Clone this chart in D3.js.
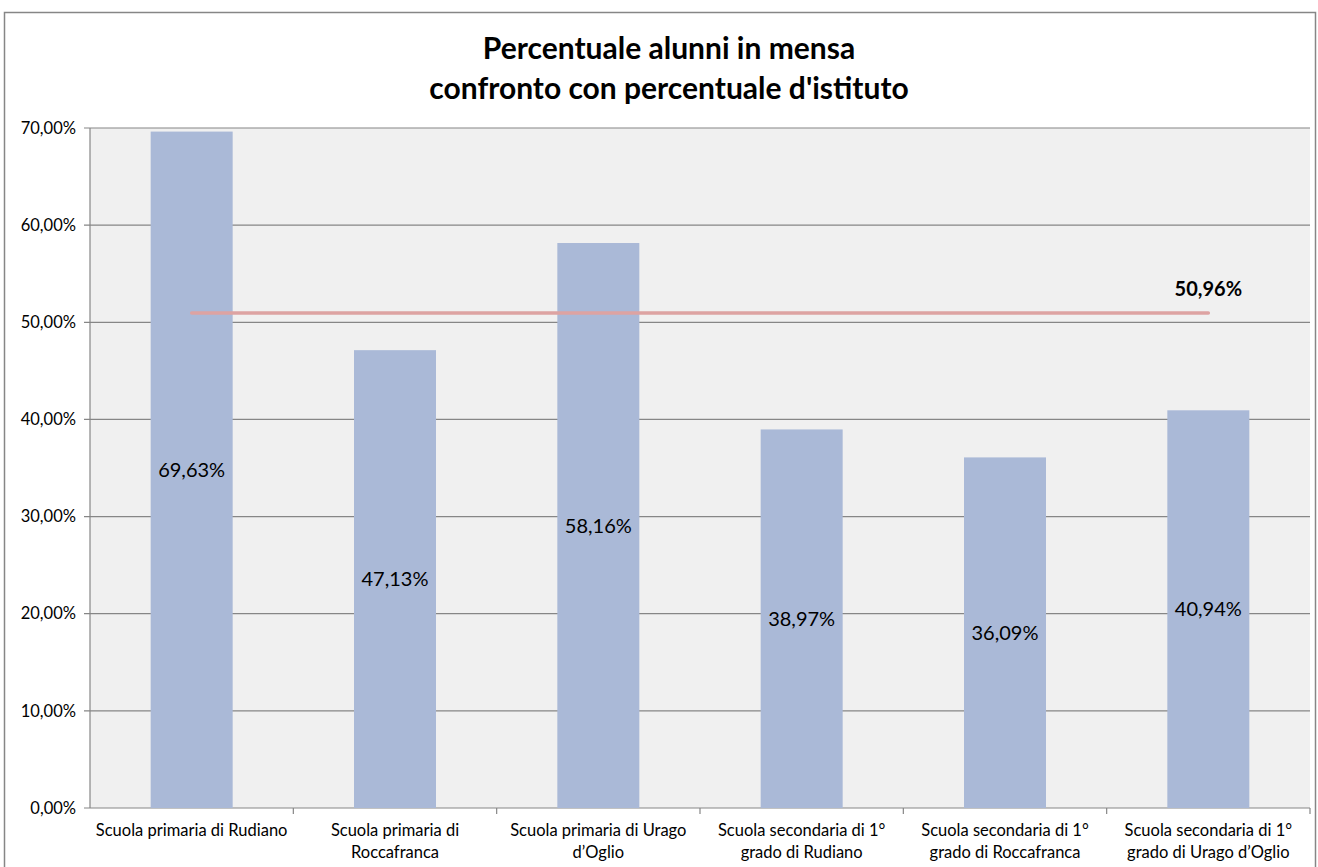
<!DOCTYPE html>
<html>
<head>
<meta charset="utf-8">
<script src="https://cdn.jsdelivr.net/npm/d3@7"></script>
<style>
  body { margin: 0; background: #fff; }
  text { font-family: Lato, "Open Sans", sans-serif; }
</style>
</head>
<body>
<div id="chart"></div>
<script>
const categories = [
  ["Scuola primaria di Rudiano"],
  ["Scuola primaria di", "Roccafranca"],
  ["Scuola primaria di Urago", "d\u2019Oglio"],
  ["Scuola secondaria di 1\u00b0", "grado di Rudiano"],
  ["Scuola secondaria di 1\u00b0", "grado di Roccafranca"],
  ["Scuola secondaria di 1\u00b0", "grado di Urago d\u2019Oglio"]
];
const values = [69.63, 47.13, 58.16, 38.97, 36.09, 40.94];
const average = 50.96;
const yTicks = [0, 10, 20, 30, 40, 50, 60, 70];
const titleLines = ["Percentuale alunni in mensa", "confronto con percentuale d'istituto"];

const width = 1318, height = 867;
const margin = { top: 128, right: 8, bottom: 59, left: 90 };
const fmt = v => d3.format(".2f")(v).replace(".", ",") + "%";

const svg = d3.select("#chart").append("svg").attr("width", width).attr("height", height);

// outer chart border
svg.append("rect")
  .attr("x", 4.5).attr("y", 12.5)
  .attr("width", 1311).attr("height", 870)
  .attr("fill", "#fff").attr("stroke", "#868686").attr("stroke-width", 1.5);

const band = d3.scaleBand().domain(d3.range(categories.length)).range([margin.left, width - margin.right]);
const y = d3.scaleLinear().domain([0, 70]).range([height - margin.bottom, margin.top]);
const cx = i => band(i) + band.bandwidth() / 2;

// plot background
svg.append("rect")
  .attr("x", margin.left).attr("y", margin.top)
  .attr("width", width - margin.left - margin.right)
  .attr("height", height - margin.top - margin.bottom)
  .attr("fill", "#F0F0F0");

// grid
svg.append("g")
  .selectAll("line")
  .data(yTicks)
  .join("line")
  .attr("x1", margin.left - 6).attr("x2", width - margin.right)
  .attr("y1", d => y(d)).attr("y2", d => y(d))
  .attr("stroke", "#868686").attr("stroke-width", 1.2);

// y axis line + labels
svg.append("line")
  .attr("x1", margin.left).attr("x2", margin.left)
  .attr("y1", margin.top).attr("y2", height - margin.bottom)
  .attr("stroke", "#868686").attr("stroke-width", 1.2);
svg.append("g")
  .selectAll("text")
  .data(yTicks)
  .join("text")
  .attr("x", margin.left - 14).attr("y", d => y(d))
  .attr("dy", "0.35em").attr("text-anchor", "end")
  .attr("font-size", 16.5).attr("fill", "#000")
  .text(d => fmt(d));

// x ticks
svg.append("g")
  .selectAll("line")
  .data(d3.range(1, categories.length + 1))
  .join("line")
  .attr("x1", d => band(d - 1) + band.bandwidth()).attr("x2", d => band(d - 1) + band.bandwidth())
  .attr("y1", y(0)).attr("y2", y(0) + 6)
  .attr("stroke", "#868686").attr("stroke-width", 1.2);

// bars
svg.append("g")
  .selectAll("rect")
  .data(values)
  .join("rect")
  .attr("x", (d, i) => cx(i) - 41)
  .attr("width", 82)
  .attr("y", d => y(d))
  .attr("height", d => y(0) - y(d))
  .attr("fill", "#AAB9D7");

// bar value labels
svg.append("g")
  .selectAll("text")
  .data(values)
  .join("text")
  .attr("x", (d, i) => cx(i))
  .attr("y", d => (y(d) + y(0)) / 2)
  .attr("dy", "0.35em").attr("text-anchor", "middle")
  .attr("font-size", 20).attr("fill", "#000")
  .text(d => fmt(d));

// average line
svg.append("line")
  .attr("x1", cx(0)).attr("x2", cx(categories.length - 1))
  .attr("y1", y(average)).attr("y2", y(average))
  .attr("stroke", "#DDA3A2").attr("stroke-width", 3.5).attr("stroke-linecap", "round");
svg.append("text")
  .attr("x", cx(categories.length - 1)).attr("y", y(average) - 24)
  .attr("dy", "0.35em").attr("text-anchor", "middle")
  .attr("font-size", 20).attr("font-weight", "bold")
  .text(fmt(average));

// category labels
svg.append("g")
  .selectAll("text")
  .data(categories)
  .join("text")
  .attr("x", (d, i) => cx(i))
  .attr("y", y(0) + 28)
  .attr("text-anchor", "middle")
  .attr("font-size", 16.5)
  .each(function (d) {
    d3.select(this).selectAll("tspan").data(d).join("tspan")
      .attr("x", this.getAttribute("x"))
      .attr("dy", (t, j) => (j === 0 ? 0 : 22))
      .text(t => t);
  });

// title
svg.append("g")
  .selectAll("text")
  .data(titleLines)
  .join("text")
  .attr("x", 669).attr("y", (d, i) => 59 + i * 40)
  .attr("text-anchor", "middle")
  .attr("font-size", 30).attr("font-weight", "bold")
  .text(d => d);
</script>
</body>
</html>
